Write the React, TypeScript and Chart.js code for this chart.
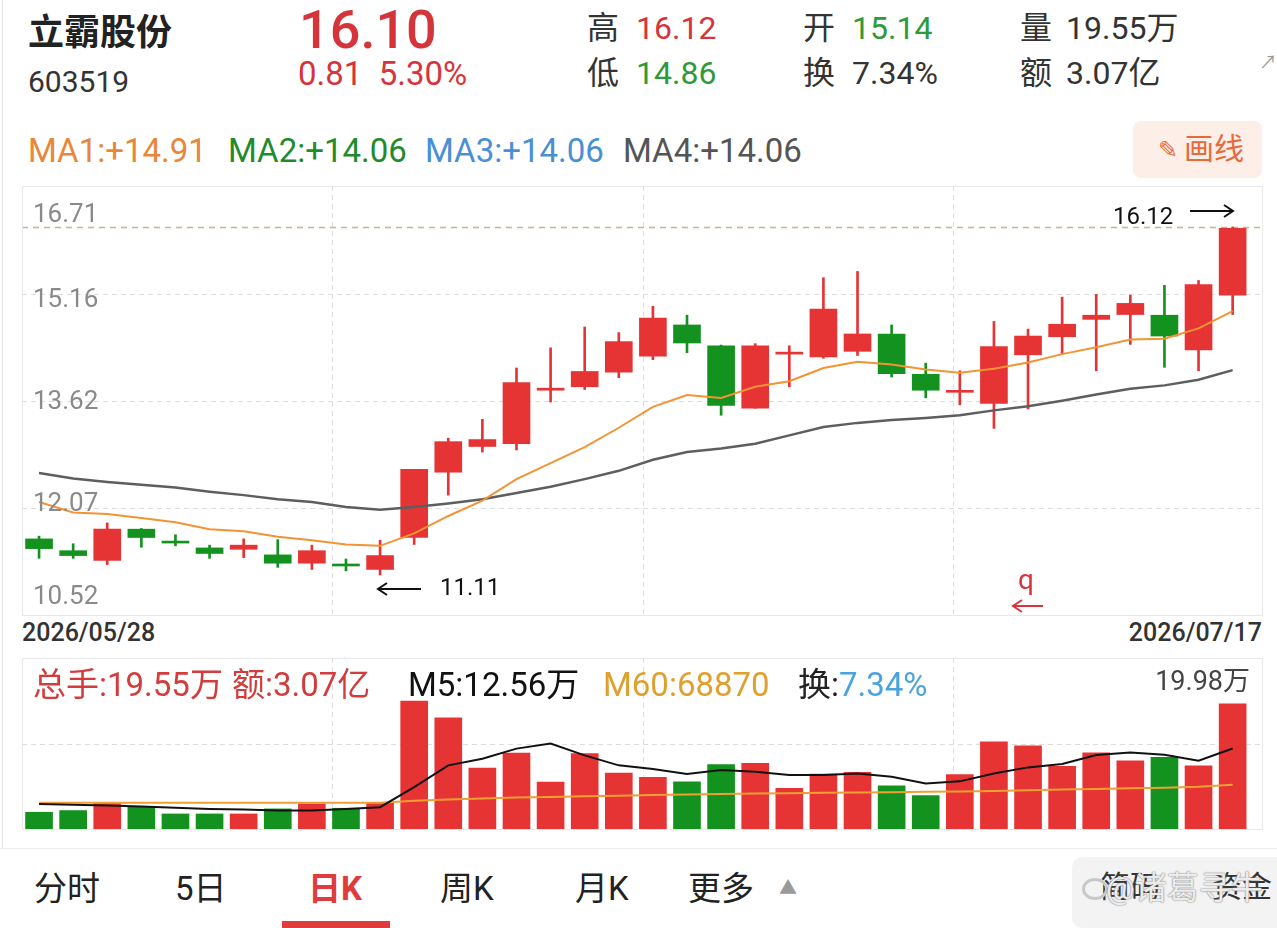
import React, { useEffect, useRef } from "react";
import { Chart, registerables } from "chart.js";

Chart.register(...registerables);

// ---------- data ----------
const opens = [11.63, 11.46, 11.32, 11.77, 11.59, 11.5, 11.48, 11.4, 11.28, 11.26, 11.19, 11.65, 12.59, 12.96, 13.0, 13.77, 13.82, 14.03, 14.26, 14.71, 14.41, 13.51, 14.29, 14.25, 14.33, 14.58, 14.0, 13.74, 13.58, 14.28, 14.54, 14.79, 14.86, 14.85, 14.35, 15.14];
const highs = [11.67, 11.56, 11.86, 11.78, 11.69, 11.54, 11.63, 11.62, 11.54, 11.34, 11.61, 12.63, 13.08, 13.35, 14.09, 14.38, 14.68, 14.6, 14.98, 14.85, 14.42, 14.44, 14.41, 15.39, 15.48, 14.71, 14.16, 14.05, 14.76, 14.65, 15.11, 15.15, 15.14, 15.28, 15.35, 16.12];
const lows = [11.35, 11.35, 11.26, 11.51, 11.53, 11.35, 11.36, 11.22, 11.19, 11.17, 11.11, 11.55, 12.26, 12.88, 12.91, 13.6, 13.78, 13.95, 14.21, 14.31, 13.41, 13.51, 13.82, 14.23, 14.27, 13.96, 13.66, 13.56, 13.22, 13.5, 14.29, 14.05, 14.43, 14.1, 14.05, 14.86];
const closes = [11.49, 11.39, 11.77, 11.65, 11.57, 11.42, 11.54, 11.28, 11.46, 11.24, 11.39, 12.63, 13.03, 13.06, 13.88, 13.8, 14.04, 14.47, 14.81, 14.45, 13.55, 14.41, 14.31, 14.94, 14.58, 14.01, 13.77, 13.76, 14.4, 14.55, 14.72, 14.85, 15.02, 14.55, 15.29, 16.1];
const ma1 = [12.16, 12.01, 11.99, 11.93, 11.87, 11.77, 11.74, 11.66, 11.61, 11.55, 11.53, 11.71, 11.96, 12.18, 12.49, 12.72, 12.95, 13.23, 13.53, 13.7, 13.66, 13.82, 13.9, 14.09, 14.18, 14.14, 14.07, 14.02, 14.08, 14.17, 14.29, 14.39, 14.5, 14.51, 14.66, 14.91];
const ma4 = [12.58, 12.5, 12.45, 12.41, 12.37, 12.31, 12.26, 12.2, 12.16, 12.09, 12.05, 12.09, 12.14, 12.2, 12.29, 12.38, 12.49, 12.61, 12.77, 12.88, 12.93, 13.0, 13.12, 13.24, 13.3, 13.34, 13.37, 13.41, 13.48, 13.54, 13.62, 13.71, 13.79, 13.84, 13.92, 14.06];
const volumes = [2.62, 2.88, 4.08, 3.4, 2.35, 2.35, 2.35, 3.14, 3.92, 3.24, 4.08, 19.98, 17.36, 9.52, 11.87, 7.32, 11.77, 8.73, 8.06, 7.38, 10.04, 10.24, 6.34, 8.58, 8.84, 6.76, 5.2, 8.48, 13.62, 13.0, 9.78, 11.9, 10.66, 11.18, 9.88, 19.55];
const volM5 = [3.92, 3.8, 3.66, 3.5, 3.3, 3.14, 3.03, 2.88, 2.88, 3.14, 3.4, 6.54, 9.94, 10.98, 12.55, 13.34, 11.5, 9.94, 9.36, 8.58, 9.2, 8.95, 8.42, 8.42, 8.68, 8.16, 7.12, 7.44, 8.68, 9.62, 10.14, 11.54, 11.96, 11.6, 10.66, 12.56];
const volM60 = [4.08, 4.08, 4.08, 4.08, 4.08, 4.08, 4.08, 4.08, 4.08, 4.08, 4.1, 4.4, 4.6, 4.75, 4.9, 5.0, 5.1, 5.2, 5.3, 5.4, 5.45, 5.55, 5.6, 5.65, 5.7, 5.75, 5.8, 5.85, 5.95, 6.05, 6.15, 6.25, 6.35, 6.45, 6.6, 6.89];
const priceTickValues = [16.71, 15.16, 13.62, 12.07, 10.52];
const priceTickLabels = ["16.71", "15.16", "13.62", "12.07", "10.52"];
const dateLabels = ["2026/05/28", "2026/07/17"];

// ---------- style constants ----------
const RED = "#e63434";
const GREEN = "#13921f";
const X_MIN = -0.5;
const X_MAX = 35.89;
const VOL_MAX = 26.7;
const FONT = "Roboto, 'Noto Sans CJK SC', sans-serif";

const gridPlugin = {
  id: "panelGrid",
  beforeDatasetsDraw(chart: any, _args: any, opts: any) {
    const { ctx, chartArea: a, scales } = chart;
    ctx.save();
    ctx.lineWidth = 1;
    ctx.setLineDash([5, 4]);
    ctx.strokeStyle = "#dedede";
    (opts.vFractions || []).forEach((f: number) => {
      const x = Math.round(a.left + (a.right - a.left) * f) + 0.5;
      ctx.beginPath();
      ctx.moveTo(x, a.top);
      ctx.lineTo(x, a.bottom);
      ctx.stroke();
    });
    (opts.hValues || []).forEach((v: number) => {
      const y = Math.round(scales.y.getPixelForValue(v)) + 0.5;
      ctx.beginPath();
      ctx.moveTo(a.left, y);
      ctx.lineTo(a.right, y);
      ctx.stroke();
    });
    if (opts.refValue !== undefined) {
      const y = Math.round(scales.y.getPixelForValue(opts.refValue)) + 0.5;
      ctx.strokeStyle = "#c4b595";
      ctx.setLineDash([6, 5]);
      ctx.lineWidth = 1.5;
      ctx.beginPath();
      ctx.moveTo(a.left, y);
      ctx.lineTo(a.right, y);
      ctx.stroke();
    }
    ctx.restore();
  },
};

function T(props: {
  x: number;
  cy: number;
  size: number;
  color?: string;
  weight?: number;
  right?: boolean;
  children: React.ReactNode;
}) {
  const { x, cy, size, color = "#333", weight = 400, right = false, children } = props;
  const style: React.CSSProperties = {
    position: "absolute",
    top: cy - size * 0.49,
    height: size,
    lineHeight: `${size}px`,
    fontSize: size,
    color,
    fontWeight: weight,
    whiteSpace: "nowrap",
    fontFamily: FONT,
  };
  if (right) style.right = 1277 - x;
  else style.left = x;
  return <div style={style}>{children}</div>;
}

function Arrow(props: { x1: number; x2: number; y: number; color: string }) {
  const { x1, x2, y, color } = props;
  const left = Math.min(x1, x2) - 2;
  const w = Math.abs(x2 - x1) + 4;
  const dir = x2 > x1 ? 1 : -1;
  const ax = x2 - left;
  const sx = x1 - left;
  return (
    <svg style={{ position: "absolute", left, top: y - 8 }} width={w} height={16}>
      <line x1={sx} y1={8} x2={ax} y2={8} stroke={color} strokeWidth={2} />
      <polyline
        points={`${ax - dir * 9},2 ${ax},8 ${ax - dir * 9},14`}
        fill="none"
        stroke={color}
        strokeWidth={2}
      />
    </svg>
  );
}

export default function App() {
  const priceRef = useRef<HTMLCanvasElement>(null);
  const volRef = useRef<HTMLCanvasElement>(null);

  useEffect(() => {
    const idx = opens.map((_, i) => i);
    const colors = idx.map((i) => (closes[i] >= opens[i] ? RED : GREEN));
    const common: any = {
      responsive: false,
      animation: false,
      events: [],
      layout: { padding: 0 },
    };
    const xScale = { type: "linear", min: X_MIN, max: X_MAX, display: false, offset: false };
    const price = new Chart(priceRef.current as HTMLCanvasElement, {
      type: "bar",
      data: {
        datasets: [
          {
            type: "line",
            data: idx.map((i) => ({ x: i, y: ma1[i] })),
            borderColor: "#f29434",
            borderWidth: 2,
            pointRadius: 0,
            tension: 0,
          } as any,
          {
            type: "line",
            data: idx.map((i) => ({ x: i, y: ma4[i] })),
            borderColor: "#5c5e60",
            borderWidth: 2.5,
            pointRadius: 0,
            tension: 0,
          } as any,
          {
            type: "bar",
            data: idx.map((i) => ({ x: i, y: [opens[i], closes[i]] })),
            backgroundColor: colors,
            barThickness: 27,
            grouped: false,
            minBarLength: 2,
          } as any,
          {
            type: "bar",
            data: idx.map((i) => ({ x: i, y: [lows[i], highs[i]] })),
            backgroundColor: colors,
            barThickness: 2,
            grouped: false,
          } as any,
        ],
      },
      options: {
        ...common,
        plugins: {
          legend: { display: false },
          tooltip: { enabled: false },
          panelGrid: {
            vFractions: [0.25, 0.5, 0.75],
            hValues: priceTickValues.slice(1, 4),
            refValue: Math.max(...highs),
          },
        },
        scales: {
          x: xScale,
          y: { min: priceTickValues[4], max: priceTickValues[0], display: false },
        },
      } as any,
      plugins: [gridPlugin as any],
    });

    const vol = new Chart(volRef.current as HTMLCanvasElement, {
      type: "bar",
      data: {
        datasets: [
          {
            type: "line",
            data: idx.map((i) => ({ x: i, y: volM5[i] })),
            borderColor: "#111111",
            borderWidth: 2,
            pointRadius: 0,
            tension: 0,
          } as any,
          {
            type: "line",
            data: idx.map((i) => ({ x: i, y: volM60[i] })),
            borderColor: "#f0a032",
            borderWidth: 2,
            pointRadius: 0,
            tension: 0,
          } as any,
          {
            type: "bar",
            data: idx.map((i) => ({ x: i, y: volumes[i] })),
            backgroundColor: colors,
            barThickness: 27,
            grouped: false,
          } as any,
        ],
      },
      options: {
        ...common,
        plugins: {
          legend: { display: false },
          tooltip: { enabled: false },
          panelGrid: { vFractions: [0.25, 0.5, 0.75], hValues: [VOL_MAX / 2] },
        },
        scales: {
          x: xScale,
          y: { min: 0, max: VOL_MAX, display: false },
        },
      } as any,
      plugins: [gridPlugin as any],
    });

    return () => {
      price.destroy();
      vol.destroy();
    };
  }, []);

  const labelYs = [213, 298, 400, 502, 595];
  const hdrRed = "#d6343b";
  const hdrGreen = "#2e9a3a";

  return (
    <div
      style={{
        position: "absolute",
        left: 0,
        top: 0,
        width: 1277,
        height: 928,
        background: "#fff",
        overflow: "hidden",
        fontFamily: FONT,
      }}
    >
      <div style={{ position: "absolute", left: 2, top: 0, width: 1, height: 848, background: "#e4e4e4" }} />

      {/* header */}
      <T x={28} cy={33} size={36} color="#222" weight={700}>立霸股份</T>
      <T x={28} cy={82} size={30} color="#333">603519</T>
      <T x={299} cy={29} size={54} color={hdrRed} weight={500}>16.10</T>
      <T x={298} cy={73} size={33} color={hdrRed}>0.81&nbsp;&nbsp;5.30%</T>

      <T x={587} cy={28} size={32} color="#333">高</T>
      <T x={636} cy={28} size={32} color={hdrRed}>16.12</T>
      <T x={587} cy={73} size={32} color="#333">低</T>
      <T x={636} cy={73} size={32} color={hdrGreen}>14.86</T>

      <T x={803} cy={28} size={32} color="#333">开</T>
      <T x={852} cy={28} size={32} color={hdrGreen}>15.14</T>
      <T x={803} cy={73} size={32} color="#333">换</T>
      <T x={852} cy={73} size={32} color="#333">7.34%</T>

      <T x={1020} cy={28} size={32} color="#333">量</T>
      <T x={1066} cy={28} size={32} color="#333">19.55万</T>
      <T x={1020} cy={73} size={32} color="#333">额</T>
      <T x={1066} cy={73} size={32} color="#333">3.07亿</T>
      <T x={1259} cy={63} size={18} color="#9a9a9a">↗</T>

      {/* MA row */}
      <T x={28} cy={150} size={33} color="#e8873a">MA1:+14.91</T>
      <T x={228} cy={150} size={33} color="#1f8b2c">MA2:+14.06</T>
      <T x={425} cy={150} size={33} color="#4a8fd6">MA3:+14.06</T>
      <T x={623} cy={150} size={33} color="#555">MA4:+14.06</T>

      <div
        style={{
          position: "absolute",
          left: 1133,
          top: 121,
          width: 129,
          height: 57,
          background: "#fdeee7",
          borderRadius: 8,
        }}
      />
      <T x={1158} cy={150} size={24} color="#e56a3c">✎</T>
      <T x={1184} cy={149} size={30} color="#e56a3c">画线</T>

      {/* price panel */}
      <canvas
        ref={priceRef}
        width={1241}
        height={430}
        style={{ position: "absolute", left: 22, top: 186 }}
      />
      <div
        style={{
          position: "absolute",
          left: 22,
          top: 186,
          width: 1241,
          height: 430,
          border: "1px solid #e8e8e8",
          boxSizing: "border-box",
          pointerEvents: "none",
        }}
      />
      {priceTickLabels.map((s, i) => (
        <T key={s} x={33} cy={labelYs[i]} size={26} color="#8a8a8a">{s}</T>
      ))}
      <T x={1113} cy={216} size={24} color="#111">16.12</T>
      <Arrow x1={1190} x2={1233} y={211} color="#111" />
      <Arrow x1={421} x2={378} y={589} color="#111" />
      <T x={440} cy={587} size={24} color="#111">11.11</T>
      <T x={1018} cy={580} size={28} color="#d9343b">q</T>
      <Arrow x1={1043} x2={1013} y={606} color="#d9343b" />

      <T x={22} cy={632} size={25} color="#333" weight={500}>{dateLabels[0]}</T>
      <T x={1262} cy={632} size={25} color="#333" weight={500} right>{dateLabels[1]}</T>

      {/* volume panel */}
      <canvas
        ref={volRef}
        width={1241}
        height={171}
        style={{ position: "absolute", left: 22, top: 658 }}
      />
      <div
        style={{
          position: "absolute",
          left: 22,
          top: 658,
          width: 1241,
          height: 172,
          border: "1px solid #e8e8e8",
          boxSizing: "border-box",
          pointerEvents: "none",
        }}
      />
      <T x={33} cy={684} size={33} color="#d23c3c">总手:19.55万</T>
      <T x={232} cy={684} size={33} color="#d23c3c">额:3.07亿</T>
      <T x={408} cy={684} size={33} color="#111">M5:12.56万</T>
      <T x={603} cy={684} size={33} color="#e0a030">M60:68870</T>
      <T x={798} cy={684} size={33} color="#222">换:<span style={{ color: "#4aa3dc" }}>7.34%</span></T>
      <T x={1250} cy={681} size={27} color="#444" right>19.98万</T>

      {/* bottom tabs */}
      <div style={{ position: "absolute", left: 0, top: 848, width: 1277, height: 1, background: "#ececec" }} />
      <T x={34} cy={888} size={33} color="#222">分时</T>
      <T x={175} cy={888} size={33} color="#222">5日</T>
      <T x={308} cy={888} size={33} color="#e03c3c" weight={700}>日K</T>
      <T x={440} cy={888} size={33} color="#222">周K</T>
      <T x={575} cy={888} size={33} color="#222">月K</T>
      <T x={688} cy={888} size={33} color="#222">更多</T>
      <T x={779} cy={888} size={18} color="#9a9a9a">▲</T>
      <div style={{ position: "absolute", left: 282, top: 921, width: 108, height: 7, background: "#e03c3c" }} />

      <div
        style={{
          position: "absolute",
          left: 1072,
          top: 857,
          width: 215,
          height: 71,
          background: "#f3f3f3",
          borderRadius: 10,
        }}
      />
      <T x={1100} cy={887} size={30} color="#333">简码</T>
      <T x={1212} cy={887} size={30} color="#333">资金</T>
      <div
        style={{
          position: "absolute",
          left: 1082,
          top: 878,
          width: 20,
          height: 16,
          borderRadius: "50%",
          border: "3px solid #c8c8c8",
        }}
      />
      <div
        style={{
          position: "absolute",
          left: 1106,
          top: 888 - 16,
          fontSize: 32,
          lineHeight: "32px",
          color: "rgba(255,255,255,0.85)",
          fontFamily: FONT,
          whiteSpace: "nowrap",
          textShadow: "0 0 2px #888, 0 0 1px #888",
        }}
      >
        @诸葛寻牛
      </div>
    </div>
  );
}
